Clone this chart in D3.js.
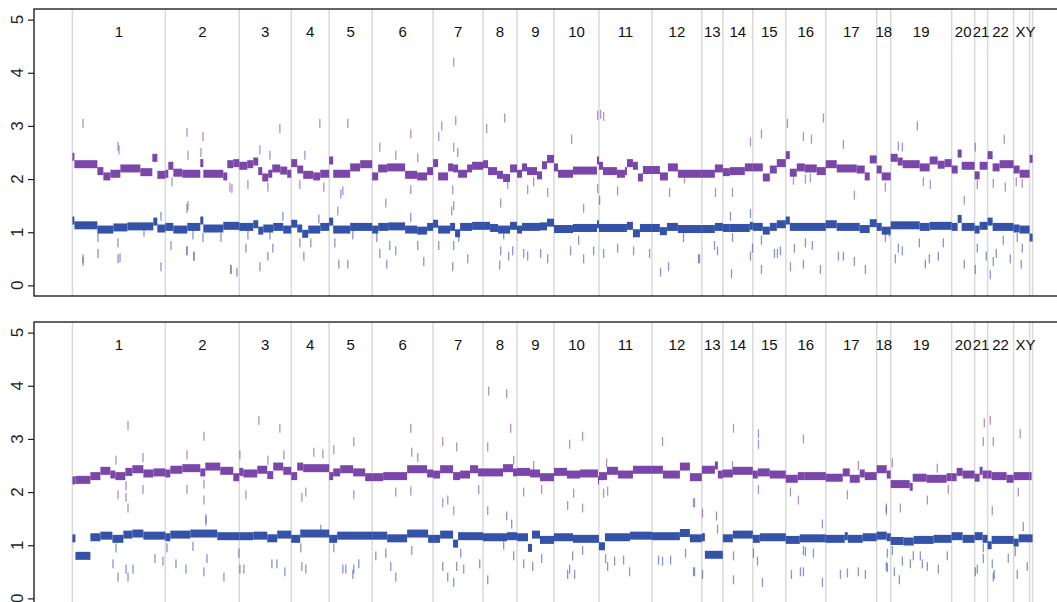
<!DOCTYPE html>
<html>
<head>
<meta charset="utf-8">
<script src="https://cdn.jsdelivr.net/npm/d3@7"></script>
<style>
  body { margin: 0; background: #fff; }
  svg { display: block; }
</style>
</head>
<body>
<script>
const width = 1057;
const height = 602;

// Chromosomes and their size (in bins, genome index units)
const chromNames = ["1","2","3","4","5","6","7","8","9","10","11","12","13","14","15","16","17","18","19","20","21","22","X","Y"];
const chromSizes = [93,74,52,38,43,61,50,34,37,45,53,50,21,30,33,40,51,14,61,23,13,26,16,3];
const yTicks = [0, 1, 2, 3, 4, 5];

// Panel 1 — segments [start, end, copy number]
const top2n = [
  [0,2,2.42],[2,25,2.28],[25,31,2.15],[31,38,2.05],[38,48,2.1],[48,68,2.2],[68,80,2.13],[80,85,2.4],[85,93,2.08],
  [93,96,2.1],[96,101,2.25],[101,110,2.12],[110,128,2.1],[128,131,2.3],[131,151,2.1],[151,155,2.05],[155,161,2.28],[161,167,2.3],
  [167,175,2.25],[175,181,2.28],[181,186,2.33],[186,190,2.15],[190,196,2.03],[196,200,2.1],[200,208,2.2],[208,215,2.16],[215,219,2.1],
  [219,225,2.3],[225,231,2.18],[231,241,2.08],[241,248,2.05],[248,257,2.1],
  [257,261,2.35],[261,278,2.1],[278,288,2.22],[288,300,2.28],
  [300,306,2.05],[306,315,2.2],[315,333,2.22],[333,345,2.08],[345,355,2.05],[355,361,2.15],
  [361,366,2.3],[366,376,2.05],[376,381,2.22],[381,386,2.2],[386,395,2.1],[395,400,2.2],[400,411,2.25],
  [411,416,2.28],[416,425,2.15],[425,431,2.08],[431,438,2.02],[438,445,2.2],
  [445,450,2.1],[450,455,2.22],[455,465,2.15],[465,470,2.07],[470,475,2.26],[475,482,2.38],
  [482,486,2.22],[486,501,2.1],[501,525,2.16],[525,527,2.35],
  [527,531,2.25],[531,545,2.15],[545,553,2.1],[553,555,2.15],[555,561,2.3],[561,566,2.25],[566,571,2.03],[571,580,2.17],
  [580,588,2.17],[588,596,2.05],[596,606,2.22],[606,630,2.1],
  [630,643,2.1],[643,651,2.2],
  [651,658,2.13],[658,673,2.15],[673,681,2.22],
  [681,691,2.22],[691,698,2.03],[698,705,2.18],[705,714,2.3],
  [714,718,2.45],[718,725,2.12],[725,733,2.22],[733,745,2.2],[745,754,2.15],
  [754,765,2.28],[765,785,2.2],[785,793,2.18],[793,798,2.05],[798,805,2.37],
  [805,810,2.18],[810,819,2.05],
  [819,826,2.4],[826,831,2.33],[831,848,2.28],[848,858,2.22],[858,866,2.35],[866,873,2.27],[873,880,2.3],
  [880,886,2.18],[886,890,2.48],[890,903,2.25],
  [903,908,2.07],[908,916,2.25],
  [916,921,2.45],[921,928,2.22],[928,942,2.28],
  [942,948,2.18],[948,958,2.1],
  [958,961,2.38]
];
// short outlier segments [position, copy number]
const top2nShort = [
  [10,3.05],[45,2.62],[46,2.55],[10,0.45],[114,2.88],[115,2.45],[130,2.8],[128,2.5],[99,1.95],[157,1.85],[159,1.82],[115,1.5],
  [114,0.65],[121,0.55],[158,0.3],[207,2.95],[187,2.55],[197,2.45],[175,1.9],[195,1.85],[247,3.05],[232,2.45],[227,1.9],[251,1.85],
  [275,3.05],[268,1.72],[265,1.4],[270,1.78],[338,2.85],[307,2.6],[323,2.45],[338,1.8],[313,1.55],[345,2.4],[381,4.2],[383,3.1],
  [369,3.0],[366,2.8],[381,2.6],[385,2.5],[380,1.8],[381,1.5],[379,1.4],[432,3.15],[414,2.95],[435,1.9],[428,1.55],[455,1.8],
  [461,1.95],[475,1.75],[499,2.75],[525,3.2],[511,1.45],[525,1.82],[528,3.22],[531,3.18],[545,1.78],[597,1.75],[612,2.0],[643,1.75],
  [678,2.7],[689,2.85],[660,1.75],[715,3.05],[731,2.8],[739,2.75],[751,3.15],[721,1.98],[733,2.0],[738,2.02],[771,2.65],[782,1.7],
  [813,1.85],[845,3.0],[826,2.62],[830,2.6],[851,1.95],[858,1.9],[892,1.6],[903,2.6],[905,1.9],[932,2.75],[921,1.92],[933,1.85],
  [944,1.95],[950,1.92]
];
const top1n = [
  [0,2,1.22],[2,25,1.13],[25,41,1.05],[41,55,1.09],[55,81,1.11],[81,85,1.2],[85,93,1.07],
  [93,101,1.1],[101,115,1.05],[115,128,1.1],[128,131,1.22],[131,151,1.07],[151,167,1.12],
  [167,181,1.1],[181,186,1.15],[186,191,1.03],[191,201,1.07],[201,211,1.1],[211,219,1.05],
  [219,225,1.16],[225,230,1.07],[230,236,0.97],[236,248,1.05],[248,257,1.1],
  [257,261,1.2],[261,278,1.05],[278,300,1.1],
  [300,306,1.05],[306,316,1.1],[316,333,1.11],[333,345,1.05],[345,355,1.03],[355,361,1.1],
  [361,366,1.16],[366,378,1.05],[378,383,1.1],[383,388,0.98],[388,400,1.1],[400,411,1.12],
  [411,418,1.12],[418,426,1.08],[426,438,1.05],[438,445,1.12],
  [445,450,1.05],[450,468,1.1],[468,475,1.11],[475,482,1.18],
  [482,501,1.06],[501,525,1.08],[525,527,1.15],
  [527,555,1.08],[555,561,1.12],[561,568,0.98],[568,580,1.08],
  [580,588,1.08],[588,595,1.02],[595,606,1.1],[606,630,1.06],
  [630,643,1.06],[643,651,1.1],
  [651,658,1.08],[658,678,1.08],[678,681,1.12],
  [681,691,1.1],[691,698,1.03],[698,705,1.1],[705,714,1.15],
  [714,718,1.22],[718,754,1.1],
  [754,765,1.15],[765,788,1.1],[788,798,1.06],[798,805,1.17],
  [805,810,1.1],[810,819,1.03],
  [819,848,1.13],[848,858,1.1],[858,880,1.12],
  [880,886,1.1],[886,890,1.25],[890,903,1.1],
  [903,908,1.05],[908,916,1.12],
  [916,921,1.2],[921,942,1.1],
  [942,948,1.07],[948,958,1.05],
  [958,961,0.9]
];
const top1nShort = [
  [25,0.9],[25,0.6],[45,0.8],[45,0.5],[47,0.52],[10,0.5],[71,1.0],[88,0.35],[88,1.3],[114,1.45],[98,0.75],[114,0.65],[121,0.55],
  [120,0.95],[130,0.9],[148,0.9],[158,0.3],[164,0.25],[173,0.7],[175,0.95],[187,0.35],[195,0.55],[200,0.7],[210,1.3],[197,0.95],
  [231,0.55],[246,1.25],[227,0.8],[238,0.8],[262,0.8],[266,0.4],[275,0.4],[280,0.95],[304,0.9],[307,0.6],[317,0.75],[323,0.65],
  [314,0.4],[338,1.28],[345,0.75],[351,0.45],[381,0.75],[380,0.35],[395,0.5],[366,0.75],[386,0.9],[428,0.65],[427,0.38],[436,0.55],
  [440,0.65],[431,0.95],[451,0.6],[455,0.55],[468,0.6],[475,0.5],[498,0.65],[506,0.85],[511,0.5],[527,1.6],[521,0.65],[545,0.7],
  [531,0.6],[561,0.65],[577,0.6],[588,0.25],[596,0.35],[611,0.9],[627,0.5],[626,0.5],[642,0.75],[645,0.65],[658,1.3],[678,1.35],
  [660,0.9],[659,0.22],[680,0.7],[678,0.55],[689,0.85],[689,0.3],[702,0.6],[705,0.6],[708,0.65],[718,0.35],[722,0.7],[731,0.4],
  [733,0.8],[740,0.75],[748,0.3],[766,0.55],[771,0.55],[782,0.45],[793,0.3],[813,0.9],[817,1.0],[823,0.5],[826,0.7],[830,0.65],
  [847,0.8],[853,0.4],[857,0.5],[866,0.55],[871,0.8],[892,0.4],[903,0.3],[905,0.7],[914,0.55],[918,0.2],[921,0.45],[924,0.6],
  [931,0.85],[938,0.5],[945,0.9],[950,0.7],[949,0.4]
];

// Panel 2
const bottom2n = [
  [0,3,2.22],[3,18,2.23],[18,28,2.3],[28,38,2.4],[38,43,2.33],[43,53,2.3],[53,60,2.38],[60,71,2.43],[71,81,2.35],[81,93,2.37],
  [93,98,2.35],[98,110,2.42],[110,128,2.45],[128,133,2.37],[133,148,2.48],[148,161,2.4],[161,167,2.28],
  [167,171,2.38],[171,185,2.35],[185,195,2.42],[195,201,2.32],[201,211,2.48],[211,219,2.4],
  [219,225,2.3],[225,231,2.48],[231,257,2.45],
  [257,261,2.3],[261,268,2.37],[268,281,2.43],[281,293,2.37],[293,300,2.28],
  [300,311,2.28],[311,335,2.3],[335,355,2.43],[355,361,2.35],
  [361,368,2.33],[368,381,2.43],[381,388,2.3],[388,398,2.33],[398,406,2.43],[406,411,2.37],
  [411,431,2.37],[431,441,2.45],[441,445,2.37],
  [445,458,2.38],[458,468,2.35],[468,482,2.28],
  [482,495,2.38],[495,508,2.33],[508,526,2.35],[526,527,2.22],
  [527,535,2.3],[535,546,2.4],[546,561,2.33],[561,580,2.42],
  [580,591,2.42],[591,608,2.33],[608,618,2.48],[618,630,2.28],
  [630,643,2.42],[643,646,2.5],[646,651,2.33],
  [651,661,2.35],[661,681,2.4],
  [681,686,2.33],[686,698,2.37],[698,714,2.33],
  [714,726,2.25],[726,733,2.3],[733,754,2.3],
  [754,771,2.27],[771,778,2.37],[778,788,2.25],[788,793,2.35],[793,805,2.3],
  [805,815,2.43],[815,819,2.33],
  [819,838,2.15],[838,841,2.1],[841,855,2.27],[855,875,2.25],[875,880,2.28],
  [880,885,2.28],[885,891,2.38],[891,903,2.33],
  [903,908,2.27],[908,911,2.4],[911,916,2.33],
  [916,920,2.33],[920,935,2.3],[935,942,2.25],
  [942,958,2.3],
  [958,960,2.3]
];
const bottom2nShort = [
  [55,3.25],[43,2.6],[70,2.65],[45,1.95],[53,1.9],[55,1.7],[70,2.05],[53,2.12],[131,3.05],[114,2.7],[131,2.15],[114,2.05],
  [131,1.85],[133,1.45],[186,3.35],[207,3.2],[195,2.6],[167,2.7],[173,1.95],[211,2.7],[241,2.75],[250,2.72],[233,2.0],[229,1.9],
  [281,2.95],[261,2.8],[281,1.95],[338,3.2],[339,2.75],[323,2.0],[338,2.02],[345,2.65],[370,2.95],[384,2.85],[370,1.8],[381,1.65],
  [375,1.85],[406,2.05],[416,3.9],[434,3.85],[438,3.2],[415,2.85],[441,2.6],[415,1.65],[461,2.5],[451,2.0],[469,2.05],[510,3.05],
  [497,2.9],[495,1.75],[510,1.7],[501,1.98],[534,2.55],[535,2.02],[531,1.98],[590,2.95],[621,1.8],[622,1.8],[630,1.6],[661,3.2],
  [660,2.5],[686,3.1],[686,2.9],[686,2.05],[731,3.0],[726,1.85],[718,2.0],[775,1.95],[786,2.5],[820,2.55],[814,1.65],[828,1.7],
  [855,1.85],[865,2.45],[876,2.05],[912,3.3],[918,3.35],[911,2.95],[921,2.95],[920,1.65],[948,3.1],[946,2.0]
];
const bottom1n = [
  [0,3,1.13],[3,18,0.8],[18,28,1.15],[28,40,1.18],[40,51,1.12],[51,60,1.2],[60,71,1.22],[71,93,1.18],
  [93,98,1.15],[98,118,1.2],[118,145,1.22],[145,167,1.17],
  [167,181,1.17],[181,195,1.18],[195,205,1.13],[205,219,1.2],
  [219,228,1.12],[228,257,1.22],
  [257,265,1.12],[265,300,1.18],
  [300,315,1.18],[315,335,1.13],[335,356,1.22],[356,361,1.12],
  [361,368,1.12],[368,381,1.2],[381,386,1.03],[386,411,1.17],
  [411,435,1.15],[435,445,1.17],
  [445,456,1.15],[456,460,0.95],[460,468,1.2],[468,482,1.1],
  [482,501,1.15],[501,527,1.12],
  [527,533,0.98],[533,558,1.15],[558,580,1.18],
  [580,608,1.17],[608,618,1.23],[618,630,1.13],
  [630,633,1.15],[633,651,0.82],
  [651,661,1.13],[661,681,1.2],
  [681,688,1.12],[688,714,1.15],
  [714,728,1.1],[728,754,1.13],
  [754,773,1.12],[773,776,1.17],[776,791,1.12],[791,805,1.15],
  [805,815,1.18],[815,819,1.15],
  [819,832,1.08],[832,842,1.07],[842,862,1.1],[862,880,1.12],
  [880,891,1.17],[891,903,1.12],
  [903,911,1.17],[911,916,1.12],
  [916,920,1.0],[920,942,1.1],
  [942,947,1.05],[947,961,1.13]
];
const bottom1nShort = [
  [40,0.65],[45,0.4],[53,0.55],[55,0.4],[60,0.55],[43,0.95],[82,0.75],[90,0.7],[94,0.95],[103,0.65],[113,0.55],[120,0.98],
  [131,0.5],[133,1.5],[134,0.75],[151,0.4],[166,0.85],[167,0.55],[171,0.55],[199,0.65],[204,0.65],[212,0.5],[228,0.95],[229,0.6],
  [233,0.55],[248,1.3],[270,0.55],[281,0.55],[261,0.95],[273,0.55],[280,0.45],[286,0.65],[303,0.8],[313,0.85],[318,0.6],[323,0.4],
  [339,0.9],[370,0.6],[375,0.4],[381,0.3],[384,0.6],[388,0.85],[391,0.55],[407,0.65],[415,0.35],[434,1.55],[439,1.4],[441,0.8],
  [431,1.0],[451,0.65],[460,0.6],[469,0.75],[500,0.8],[497,0.55],[495,0.45],[502,0.45],[510,0.9],[533,0.75],[535,0.6],[542,0.7],
  [551,0.72],[557,0.5],[590,0.7],[586,0.72],[598,0.72],[613,0.85],[621,0.5],[622,0.5],[644,1.55],[645,1.3],[630,0.45],[661,0.8],
  [661,0.35],[681,0.85],[685,0.7],[690,0.3],[731,0.9],[733,0.88],[741,0.85],[728,0.5],[731,0.5],[750,0.3],[750,1.4],[719,0.45],
  [768,0.45],[775,0.48],[786,0.5],[793,0.45],[814,1.7],[815,0.85],[820,0.9],[814,0.6],[815,0.58],[822,0.5],[827,0.35],[830,0.7],
  [838,0.65],[841,0.8],[848,0.8],[850,0.65],[855,0.6],[866,0.55],[875,0.8],[903,0.5],[905,0.55],[911,0.75],[911,0.95],[922,0.45],
  [920,0.65],[921,0.4],[936,0.75],[943,0.88],[945,0.45],[951,1.35],[955,0.6]
];

const purple = "#7a46a9";
const blue = "#3453a8";

// chromosome start / end offsets
const chromStarts = d3.cumsum([0, ...chromSizes]).slice(0, -1);
const genomeEnd = d3.sum(chromSizes);
const chroms = chromNames.map((n, i) => ({ name: n, start: chromStarts[i], end: chromStarts[i] + chromSizes[i] }));
// labels: X and Y share one "XY" label
const chromLabels = chroms.slice(0, 22).map(c => ({ name: c.name, mid: (c.start + c.end) / 2 }))
  .concat([{ name: "XY", mid: (chroms[22].start + chroms[23].end) / 2 + 2.5 }]);

const pad = genomeEnd * 0.04;
const x = d3.scaleLinear().domain([-pad, genomeEnd + pad]).range([34, 1071]);

const svg = d3.select("body").append("svg")
  .attr("width", width)
  .attr("height", height);

const drawPanel = (top, segHi, shortHi, segLo, shortLo) => {
  const bottom = top + 287;
  const y = d3.scaleLinear().domain([-0.2, 5.2]).range([bottom, top]);
  const g = svg.append("g");

  // chromosome boundaries
  const bounds = [0, ...chroms.map(c => c.end)];
  g.selectAll(".bound").data(bounds).join("line")
    .attr("x1", d => x(d)).attr("x2", d => x(d))
    .attr("y1", top).attr("y2", bottom)
    .attr("stroke", "#d9d9d9")
    .attr("stroke-width", 1.5);

  // chromosome names
  g.selectAll(".clab").data(chromLabels).join("text")
    .attr("x", d => x(d.mid))
    .attr("y", top + 27.5)
    .attr("text-anchor", "middle")
    .attr("font-family", "Liberation Sans, Arial, sans-serif")
    .attr("font-size", "15px")
    .attr("fill", "#111")
    .text(d => d.name);

  const drawSeries = (segs, shorts, color) => {
    g.append("g").selectAll("rect").data(shorts).join("rect")
      .attr("x", d => x(d[0]))
      .attr("width", 1.3)
      .attr("y", d => y(d[1]) - 4.5)
      .attr("height", 9)
      .attr("fill", color)
      .attr("opacity", 0.6);
    g.append("g").selectAll("rect").data(segs).join("rect")
      .attr("x", d => x(d[0]))
      .attr("width", d => Math.max(1, x(d[1]) - x(d[0])))
      .attr("y", d => y(d[2]) - 4)
      .attr("height", 8)
      .attr("fill", color);
  };
  drawSeries(segLo, shortLo, blue);
  drawSeries(segHi, shortHi, purple);

  // frame
  g.append("rect")
    .attr("x", x.range()[0]).attr("y", top)
    .attr("width", x.range()[1] - x.range()[0]).attr("height", bottom - top)
    .attr("fill", "none")
    .attr("stroke", "#222")
    .attr("stroke-width", 1.4);

  // y axis: tick marks from d3, labels rotated like base R
  const axis = g.append("g")
    .attr("transform", `translate(${x.range()[0]},0)`)
    .call(d3.axisLeft(y).tickValues(yTicks).tickSize(6).tickFormat(""));
  axis.select(".domain").remove();
  axis.selectAll(".tick line").attr("stroke", "#222").attr("stroke-width", 1.2);

  g.selectAll(".ylab").data(yTicks).join("text")
    .attr("transform", d => `translate(23,${y(d)}) rotate(-90)`)
    .attr("text-anchor", "middle")
    .attr("font-family", "Liberation Sans, Arial, sans-serif")
    .attr("font-size", "17px")
    .attr("fill", "#222")
    .text(d => d);
};

drawPanel(9, top2n, top2nShort, top1n, top1nShort);
drawPanel(322, bottom2n, bottom2nShort, bottom1n, bottom1nShort);
</script>
</body>
</html>
